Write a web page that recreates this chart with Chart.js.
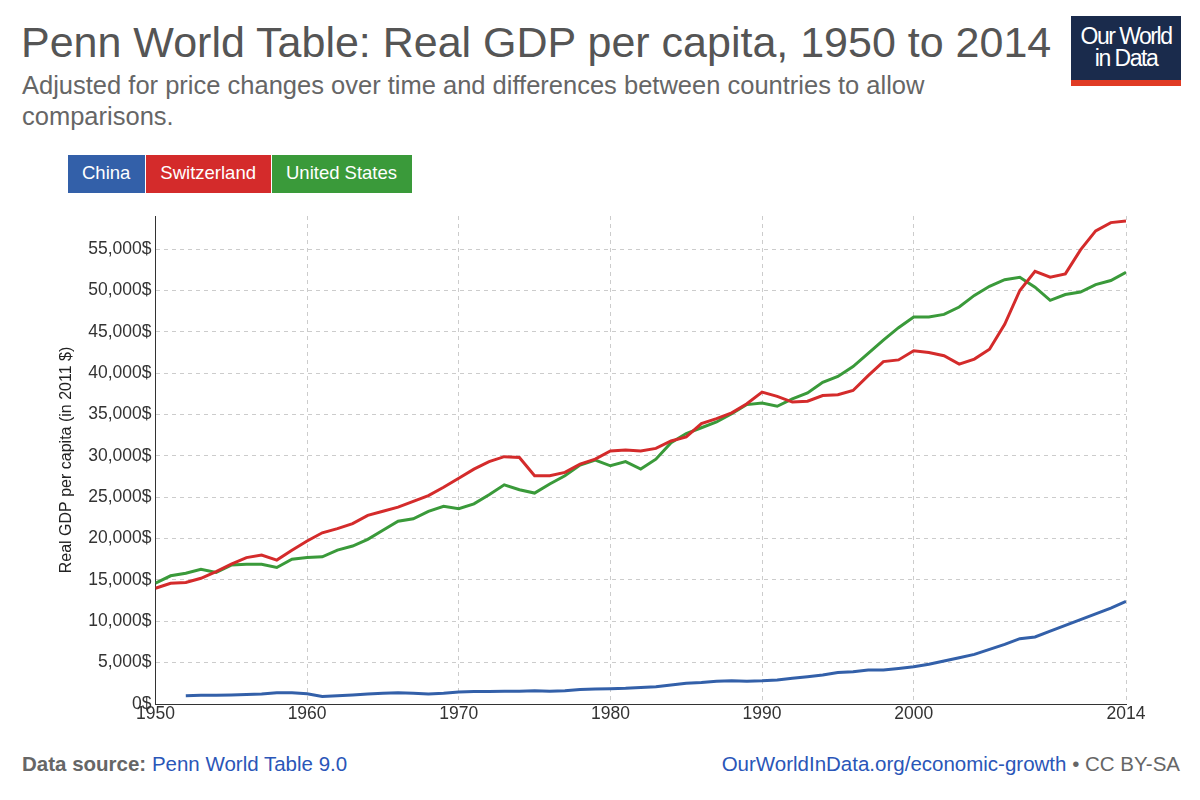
<!DOCTYPE html>
<html><head><meta charset="utf-8">
<script src="https://cdn.jsdelivr.net/npm/chart.js@4"></script>
<style>
body{margin:0;width:1200px;height:800px;background:#fff;font-family:"Liberation Sans",Arial,sans-serif;position:relative;overflow:hidden}
#t{position:absolute;left:21px;top:18px;font-size:43px;color:#555;}
#s{position:absolute;left:22px;top:70px;font-size:25.5px;color:#666;width:960px;line-height:31px}
#logo{position:absolute;left:1071px;top:16px;width:110px;height:70px;background:#1a2b4c;color:#fff;font-size:23px;text-align:center;line-height:22px;letter-spacing:-1.5px}
#logo div{padding-top:9px}
#logo span{position:absolute;bottom:0;left:0;width:110px;height:6px;background:#e03b24}
#leg{position:absolute;left:68px;top:155px;display:flex}
#leg div{color:#fff;font-size:18.5px;padding:7px 15px 9px 14px;margin-right:1px}
#c{position:absolute;left:0;top:195px;width:1200px;height:530px}
#f1{position:absolute;left:22px;top:752px;font-size:20.5px;color:#666;font-weight:bold}
#f1 span{color:#2a56b8;font-weight:normal}
#f2{position:absolute;right:20px;top:752px;font-size:20.5px;color:#2a56b8}
#f2 span{color:#666}
</style></head><body>
<div id="t">Penn World Table: Real GDP per capita, 1950 to 2014</div>
<div id="s">Adjusted for price changes over time and differences between countries to allow comparisons.</div>
<div id="logo"><div>Our World<br>in Data</div><span></span></div>
<div id="leg"><div style="background:#3360a9">China</div><div style="background:#d42b2b">Switzerland</div><div style="background:#3a9a3a">United States</div></div>
<div id="c"><canvas id="cv"></canvas></div>
<div id="f1">Data source: <span>Penn World Table 9.0</span></div>
<div id="f2">OurWorldInData.org/economic-growth <span>• CC BY-SA</span></div>
<script>
const years=[];for(let y=1950;y<=2014;y++)years.push(y);
const switzerland=[14.0,14.6,14.7,15.2,16.0,16.9,17.7,18.0,17.4,18.6,19.7,20.7,21.2,21.8,22.8,23.3,23.8,24.5,25.2,26.2,27.3,28.4,29.3,29.9,29.8,27.6,27.6,28.0,29.0,29.6,30.6,30.7,30.6,30.9,31.8,32.3,33.9,34.5,35.2,36.3,37.7,37.2,36.5,36.6,37.3,37.4,37.9,39.7,41.4,41.6,42.7,42.5,42.1,41.1,41.7,42.9,45.9,50.0,52.3,51.6,52.0,54.9,57.2,58.2,58.4];
const unitedStates=[14.6,15.5,15.8,16.3,15.9,16.8,16.9,16.9,16.5,17.5,17.7,17.8,18.6,19.1,19.9,21.0,22.1,22.4,23.3,23.9,23.6,24.2,25.3,26.5,25.9,25.5,26.6,27.6,28.9,29.5,28.8,29.3,28.4,29.6,31.6,32.7,33.4,34.1,35.1,36.2,36.4,36.0,36.9,37.6,38.9,39.6,40.8,42.4,44.0,45.5,46.8,46.8,47.1,48.0,49.4,50.5,51.3,51.6,50.4,48.8,49.5,49.8,50.7,51.2,52.2];
const china=[null,null,1.0,1.05,1.05,1.1,1.15,1.2,1.35,1.35,1.25,0.9,1.0,1.1,1.2,1.3,1.35,1.3,1.2,1.3,1.45,1.5,1.5,1.55,1.55,1.6,1.55,1.6,1.75,1.8,1.85,1.9,2.0,2.1,2.3,2.5,2.6,2.75,2.8,2.75,2.8,2.9,3.1,3.3,3.5,3.8,3.9,4.1,4.1,4.3,4.5,4.8,5.2,5.6,6.0,6.6,7.2,7.9,8.1,8.8,9.5,10.2,10.9,11.6,12.4];
const xTicks=[1950,1960,1970,1980,1990,2000,2014];
const pts=a=>a.map((v,i)=>({x:years[i],y:v==null?null:v*1000}));
const ds=(l,d,c)=>({label:l,data:pts(d),borderColor:c,borderWidth:3,pointRadius:0,tension:0,spanGaps:false});
const F={size:17.5,family:'Liberation Sans'};
new Chart(document.getElementById('cv'),{type:'line',
data:{datasets:[ds('China',china,'#3360a9'),ds('Switzerland',switzerland,'#d42b2b'),ds('United States',unitedStates,'#3a9a3a')]},
options:{responsive:true,maintainAspectRatio:false,animation:false,
layout:{padding:{left:57,right:74,top:21,bottom:0}},
plugins:{legend:{display:false},tooltip:{enabled:false}},
scales:{
x:{type:'linear',min:1950,max:2014,afterBuildTicks:s=>{s.ticks=xTicks.map(v=>({value:v}))},
 ticks:{color:'#333',font:F,maxRotation:0,autoSkip:false,padding:0,callback:v=>String(v)},
 grid:{color:'#ccc',borderDash:[4,4],drawTicks:false,tickLength:0},border:{color:'#333',dash:[4,4]}},
y:{min:0,max:59000,afterBuildTicks:s=>{const t=[];for(let v=0;v<=55000;v+=5000)t.push({value:v});s.ticks=t},
 ticks:{color:'#333',font:F,padding:4,callback:v=>v.toLocaleString('en-US')+'$'},
 title:{display:true,text:'Real GDP per capita (in 2011 $)',color:'#222',font:{size:16,family:'Liberation Sans'},padding:{top:0,bottom:8}},
 grid:{color:'#ccc',drawTicks:false},border:{color:'#333',dash:[4,4]}}
}}});
</script>
</body></html>
